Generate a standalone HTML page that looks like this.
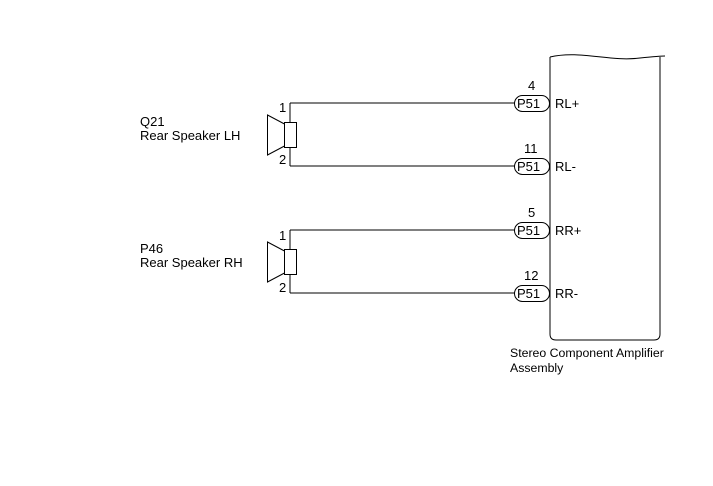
<!DOCTYPE html>
<html><head><style>body{margin:0;background:#fff}</style></head><body>
<svg width="713" height="481" xmlns="http://www.w3.org/2000/svg" font-family="Liberation Sans, sans-serif" font-size="13" fill="#000">
<g stroke="#000" fill="none" stroke-width="1">
<path d="M550,57 C580,50 610,62 640,58 C650,57 660,56 665,56"/>
<path d="M550,57 V334 Q550,340 556,340 H654 Q660,340 660,334 V57"/>
<path d="M290,103 H514 M290,166 H514 M290,230 H514 M290,293 H514"/>
<path d="M290,103 V122 M290,147 V166 M290,230 V249 M290,274 V293"/>
<rect x="284.5" y="122.5" width="12" height="25"/>
<path d="M284.5,124 L267.5,115 V155 L284.5,146"/>
<rect x="284.5" y="249.5" width="12" height="25"/>
<path d="M284.5,251 L267.5,242 V282 L284.5,273"/>
<rect x="514.5" y="95.5" width="35" height="16" rx="8"/>
<rect x="514.5" y="158.5" width="35" height="16" rx="8"/>
<rect x="514.5" y="222.5" width="35" height="16" rx="8"/>
<rect x="514.5" y="285.5" width="35" height="16" rx="8"/>
</g>
<g>
<text x="517" y="108">P51</text><text x="517" y="171">P51</text><text x="517" y="235">P51</text><text x="517" y="298">P51</text>
<text x="555" y="108">RL+</text><text x="555" y="171">RL-</text><text x="555" y="235">RR+</text><text x="555" y="298">RR-</text>
<text x="528" y="90">4</text><text x="524" y="153">11</text><text x="528" y="217">5</text><text x="524" y="280">12</text>
<text x="279" y="112">1</text><text x="279" y="164">2</text><text x="279" y="240">1</text><text x="279" y="292">2</text>
<text x="140" y="126">Q21</text><text x="140" y="140">Rear Speaker LH</text>
<text x="140" y="253">P46</text><text x="140" y="267">Rear Speaker RH</text>
<text x="510" y="357" font-size="12.3">Stereo Component Amplifier</text><text x="510" y="372" font-size="12.3">Assembly</text>
</g>
</svg>
</body></html>
